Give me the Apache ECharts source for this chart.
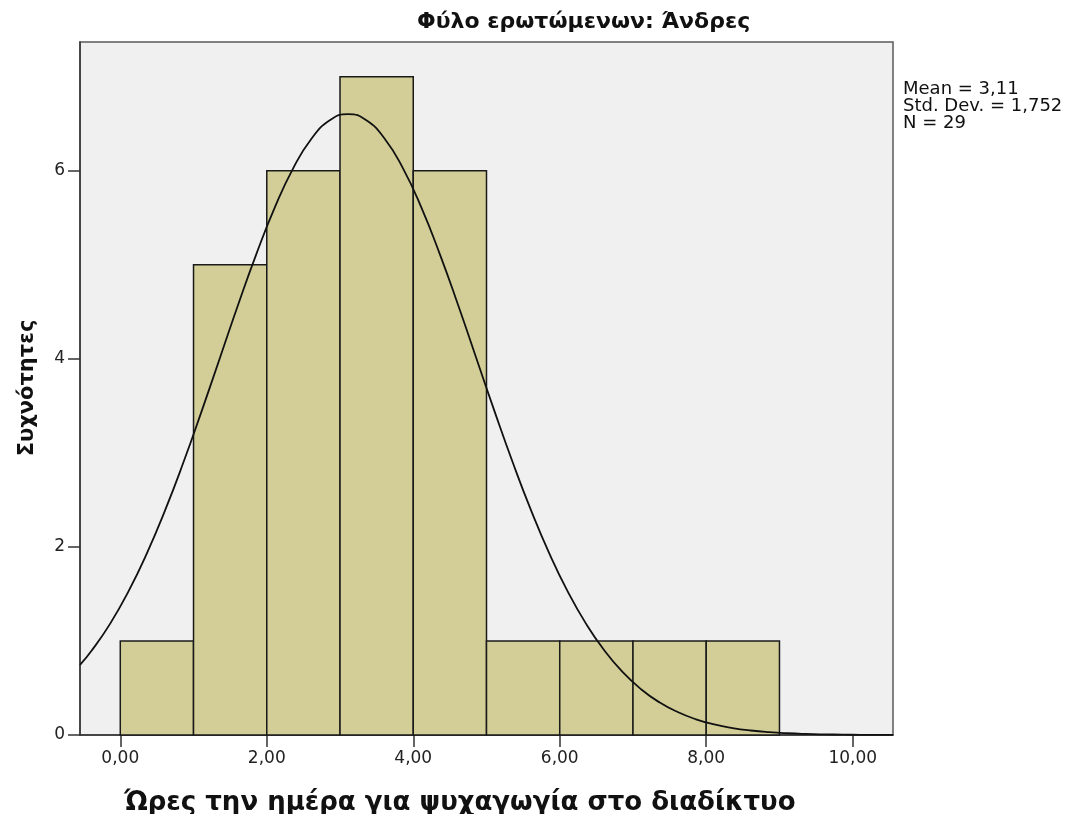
<!DOCTYPE html>
<html>
<head>
<meta charset="utf-8">
<script src="https://cdn.jsdelivr.net/npm/echarts@6/dist/echarts.min.js"></script>
<style>html,body{margin:0;padding:0;background:#fff}#c{width:1072px;height:814px}</style>
</head>
<body>
<div id="c"></div>
<script>
// Histogram bins (hours per day) and frequencies
const binStart = [0, 1, 2, 3, 4, 5, 6, 7, 8];
const binEnd   = [1, 2, 3, 4, 5, 6, 7, 8, 9];
const counts   = [1, 5, 6, 7, 6, 1, 1, 1, 1];

// Fitted normal curve (x, frequency); peak near x = 3,11
const curveX = [-0.55, -0.39, -0.14, 0.11, 0.36, 0.61, 0.86, 1.11, 1.36, 1.61, 1.86, 2.11, 2.36, 2.61, 2.86, 3.11,
  3.36, 3.61, 3.86, 4.11, 4.36, 4.61, 4.86, 5.11, 5.36, 5.61, 5.86, 6.11, 6.36, 6.61, 6.86, 7.11, 7.36, 7.61, 7.86,
  8.11, 8.36, 8.61, 8.86, 9.11, 9.36, 9.61, 9.86, 10.11, 10.36, 10.55];
const curveY = [0.745, 0.898, 1.182, 1.525, 1.927, 2.386, 2.895, 3.442, 4.010, 4.578, 5.120, 5.611, 6.026, 6.341, 6.537, 6.604,
  6.537, 6.341, 6.026, 5.611, 5.120, 4.578, 4.010, 3.442, 2.895, 2.386, 1.927, 1.525, 1.182, 0.898, 0.668, 0.487, 0.348, 0.244, 0.167,
  0.1125, 0.0741, 0.0478, 0.0302, 0.0187, 0.0114, 0.0068, 0.0039, 0.0023, 0.0013, 0.0008];

const xTicks = [0, 2, 4, 6, 8, 10];
const yTicks = [0, 2, 4, 6];

const titleText = 'Φύλο ερωτώμενων: Άνδρες';
const xName = 'Ώρες την ημέρα για ψυχαγωγία στο διαδίκτυο';
const yName = 'Συχνότητες';
const statsLines = ['Mean = 3,11', 'Std. Dev. = 1,752', 'N = 29'];

const chart = echarts.init(document.getElementById('c'), null, {renderer: 'canvas'});

const barData = binStart.map((s, i) => [s, binEnd[i], counts[i]]);
const curveData = curveX.map((x, i) => [x, curveY[i]]);

chart.setOption({
  animation: false,
  backgroundColor: '#ffffff',
  grid: {
    left: 80, top: 42, right: 179, bottom: 79,
    show: true, backgroundColor: '#f0f0f0', borderColor: '#5a5a5a', borderWidth: 1.5
  },
  xAxis: {
    type: 'value', min: -0.55, max: 10.55,
    splitLine: {show: false},
    axisLine: {show: true, onZero: false, lineStyle: {color: '#333', width: 1.5}},
    axisTick: {show: true, customValues: xTicks, length: 12, lineStyle: {color: '#333', width: 1.5}},
    axisLabel: {
      customValues: xTicks, margin: 15, color: '#222', fontSize: 17, fontFamily: 'DejaVu Sans',
      formatter: v => v.toFixed(2).replace('.', ',')
    }
  },
  yAxis: {
    type: 'value', min: 0, max: 7.37,
    splitLine: {show: false},
    axisLine: {show: true, onZero: false, lineStyle: {color: '#333', width: 1.5}},
    axisTick: {show: true, customValues: yTicks, length: 12, lineStyle: {color: '#333', width: 1.5}},
    axisLabel: {customValues: yTicks, margin: 15, color: '#222', fontSize: 17, fontFamily: 'DejaVu Sans'}
  },
  series: [
    {
      type: 'custom',
      data: barData,
      encode: {x: [0, 1], y: 2},
      renderItem: function (params, api) {
        const p0 = api.coord([api.value(0), api.value(2)]);
        const p1 = api.coord([api.value(1), 0]);
        return {
          type: 'rect',
          shape: {x: p0[0], y: p0[1], width: p1[0] - p0[0], height: p1[1] - p0[1]},
          style: {fill: '#d3ce98', stroke: '#1a1a1a', lineWidth: 1.5}
        };
      },
      z: 2
    },
    {
      type: 'line',
      data: curveData,
      smooth: true,
      showSymbol: false,
      lineStyle: {color: '#111', width: 1.8},
      z: 5
    }
  ],
  graphic: [
    {
      type: 'text', left: 417, top: 11,
      style: {text: titleText, font: 'bold 22px "DejaVu Sans"', fill: '#111'}
    },
    {
      type: 'text', x: 460, y: 803,
      style: {text: xName, font: 'bold 26px "DejaVu Sans"', fill: '#111', textAlign: 'center', textVerticalAlign: 'middle'}
    },
    {
      type: 'text', x: 28, y: 388, rotation: Math.PI / 2,
      style: {text: yName, font: 'bold 21px "DejaVu Sans"', fill: '#111', textAlign: 'center', textVerticalAlign: 'middle'}
    },
    {
      type: 'text', left: 903, top: 80,
      style: {text: statsLines.join('\n'), font: '18px "DejaVu Sans"', lineHeight: 17, fill: '#111'}
    }
  ]
});
</script>
</body>
</html>
